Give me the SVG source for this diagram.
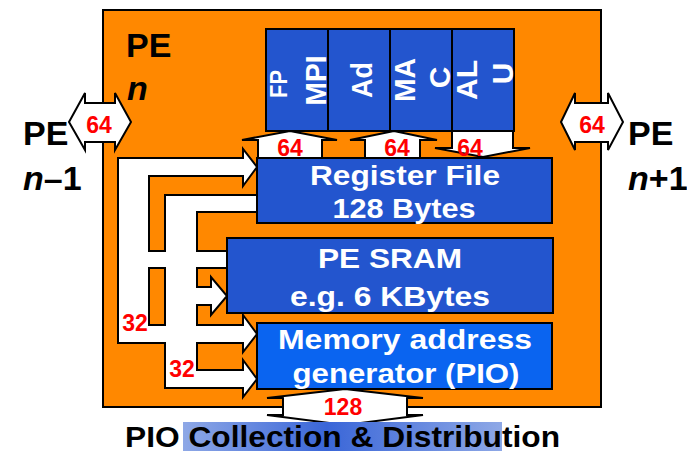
<svg xmlns="http://www.w3.org/2000/svg" width="687" height="451" viewBox="0 0 687 451">
<defs>
<linearGradient id="hl" x1="0" y1="0" x2="1" y2="0">
<stop offset="0" stop-color="#8EA8E6"/>
<stop offset="0.45" stop-color="#3A66D8"/>
<stop offset="1" stop-color="#8EA8E6"/>
</linearGradient>
<style>
text{font-family:"Liberation Sans",Arial,sans-serif;font-weight:bold}
.box{fill:#2355CE;stroke:#000;stroke-width:2}
.box2{fill:#0A64F0;stroke:#000;stroke-width:2}
.wt{fill:#fff;text-anchor:middle}
.red{fill:#FF0000;font-size:23px;text-anchor:middle}
.blk{fill:#000;font-size:34px}
.arr{fill:#fff;stroke:#000;stroke-width:2;stroke-linejoin:miter}
.er{fill:#fff;stroke:none}
.ut{fill:#fff;font-size:30px;text-anchor:middle}
</style>
</defs>
<rect width="687" height="451" fill="#fff"/>
<g id="pe-n">
<rect x="103" y="10" width="498" height="397" fill="#FF8800" stroke="#000" stroke-width="2"/>
<text class="blk" x="126" y="57">PE</text>
<text class="blk" x="127" y="100" font-style="italic">n</text>
</g>
<g id="units">
<rect class="box" x="266" y="29" width="62" height="102"/>
<rect class="box" x="328" y="29" width="62" height="102"/>
<rect class="box" x="390" y="29" width="62" height="102"/>
<rect class="box" x="452" y="29" width="62" height="102"/>
<text class="ut" transform="translate(287,84) rotate(-90)" textLength="28" lengthAdjust="spacingAndGlyphs" style="font-size:24px">FP</text>
<text class="ut" transform="translate(326,80.5) rotate(-90)" textLength="50" lengthAdjust="spacingAndGlyphs">MPI</text>
<text class="ut" transform="translate(372,80) rotate(-90)" textLength="36" lengthAdjust="spacingAndGlyphs">Ad</text>
<text class="ut" transform="translate(415,80) rotate(-90)" textLength="44" lengthAdjust="spacingAndGlyphs">MA</text>
<text class="ut" transform="translate(450,77.5) rotate(-90)">C</text>
<text class="ut" transform="translate(477,80) rotate(-90)" textLength="40" lengthAdjust="spacingAndGlyphs">AL</text>
<text class="ut" transform="translate(513,73.5) rotate(-90)">U</text>
</g>
<g id="connectors">
<polygon class="arr" points="242,140 290,131 337,140 322,140 322,158 258,158 258,140"/>
<polygon class="arr" points="350,140 394,131 437,140 420,140 420,158 365,158 365,140"/>
<polygon class="arr" points="452,131 513,131 513,148 530,148 483,157 435,148 452,148"/>
<polygon class="arr" points="69,122 85,93 85,103 115,103 115,93 131,122 115,150 115,142 85,142 85,150"/>
<polygon class="arr" points="561,122 575,93 575,103 608,103 608,93 623,122 608,150 608,142 575,142 575,150"/>
<polygon class="arr" points="345,389 423,398 407,398 407,415 423,415 345,425 267,415 283,415 283,398 267,398"/>
<rect class="arr" x="140" y="251" width="90" height="17"/>
<polygon class="arr" points="165,195 259,195 259,212 197,212 197,287 211,287 211,277 227,296 211,315 211,305 197,305 197,370 243,370 243,360 257,379 243,397 243,388 165,388"/>
<polygon class="arr" points="118,158 243,158 243,149 257,167 243,186 243,176 149,176 149,325 243,325 243,315 257,334 243,352 243,343 118,343"/>
<rect class="er" x="147" y="252" width="4" height="15"/>
<rect class="er" x="163" y="252" width="4" height="15"/>
<rect class="er" x="195" y="252" width="4" height="15"/>
<rect class="er" x="166" y="323.5" width="30" height="3"/>
<rect class="er" x="166" y="341.5" width="30" height="3"/>
<text class="red" x="290" y="156">64</text>
<text class="red" x="397" y="156">64</text>
<text class="red" x="470" y="156">64</text>
<text class="red" x="99" y="133">64</text>
<text class="red" x="592" y="133">64</text>
<text class="red" x="135" y="331">32</text>
<text class="red" x="182" y="377">32</text>
</g>
<g id="register-file">
<rect class="box" x="257" y="158" width="295" height="65"/>
<text class="wt" x="405" y="185" style="font-size:28px" textLength="190" lengthAdjust="spacingAndGlyphs">Register File</text>
<text class="wt" x="404" y="218" style="font-size:28px" textLength="143" lengthAdjust="spacingAndGlyphs">128 Bytes</text>
</g>
<g id="pe-sram">
<rect class="box" x="227" y="238" width="326" height="75"/>
<text class="wt" x="390" y="268" style="font-size:28px" textLength="144" lengthAdjust="spacingAndGlyphs">PE SRAM</text>
<text class="wt" x="390" y="306" style="font-size:28px" textLength="200" lengthAdjust="spacingAndGlyphs">e.g. 6 KBytes</text>
</g>
<g id="mem-addr-gen">
<rect class="box2" x="257" y="323" width="295" height="66"/>
<text class="wt" x="405" y="349" style="font-size:28px" textLength="254" lengthAdjust="spacingAndGlyphs">Memory address</text>
<text class="wt" x="406" y="383" style="font-size:28px" textLength="227" lengthAdjust="spacingAndGlyphs">generator (PIO)</text>
</g>
<g id="bus-128-label">
<text class="red" x="343" y="415">128</text>
</g>
<g id="pe-n-minus-1">
<text class="blk" x="23" y="145">PE</text>
<text class="blk" x="23" y="190"><tspan font-style="italic">n</tspan>–1</text>
</g>
<g id="pe-n-plus-1">
<text class="blk" x="628" y="145">PE</text>
<text class="blk" x="628" y="190"><tspan font-style="italic">n</tspan>+1</text>
</g>
<g id="pio">
<rect x="183" y="422" width="319" height="29" fill="url(#hl)"/>
<text x="125" y="447" fill="#000" style="font-size:29px" textLength="435" lengthAdjust="spacingAndGlyphs">PIO Collection &amp; Distribution</text>
</g>
</svg>
